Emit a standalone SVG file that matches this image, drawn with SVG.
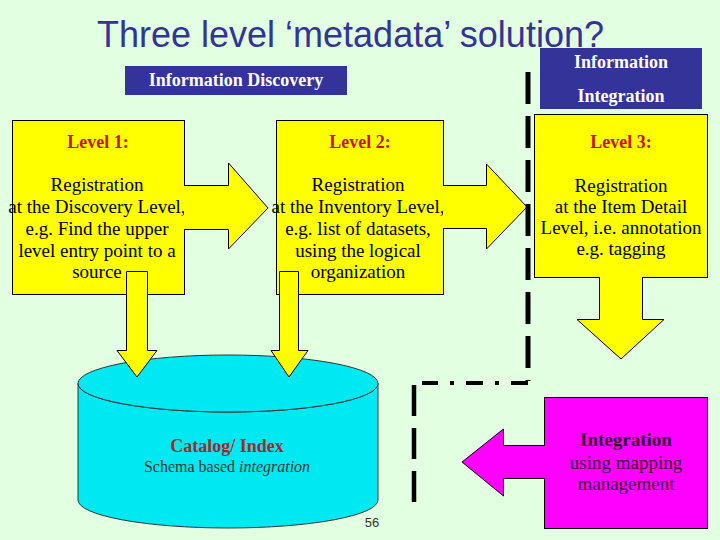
<svg xmlns="http://www.w3.org/2000/svg" width="720" height="540" viewBox="0 0 720 540">
<style>
.bg{fill:#E2FFE2}
.hdr{fill:#333399}
.hdrt{font-family:"Liberation Serif",serif;font-weight:bold;font-size:18px;fill:#ffffff;text-anchor:middle}
.box{fill:#FFFF00;stroke:#000000;stroke-width:1}
.lvl{font-family:"Liberation Serif",serif;font-weight:bold;font-size:18px;fill:#CC1100;text-anchor:middle}
.body{font-family:"Liberation Serif",serif;font-size:19px;fill:#000000;text-anchor:middle}
.dash{fill:none;stroke:#000000}
.mag{fill:#FF00FF;stroke:#000000;stroke-width:1}
.magt{font-family:"Liberation Serif",serif;font-size:19px;fill:#330033;text-anchor:middle}
.cyl{fill:#00E8F2;stroke:#333333;stroke-width:1}
</style>
<rect class="bg" x="0" y="0" width="720" height="540"/>
<text x="97" y="47" font-family="Liberation Sans, Arial, sans-serif" font-size="36" fill="#333399">Three level ‘metadata’ solution?</text>

<g id="info-discovery">
<rect class="hdr" x="125" y="66" width="222" height="29"/>
<text class="hdrt" x="236" y="86">Information Discovery</text>
</g>
<g id="info-integration">
<rect class="hdr" x="540" y="48" width="162" height="61"/>
<text class="hdrt" x="621" y="68">Information</text>
<text class="hdrt" x="621" y="102">Integration</text>
</g>

<g id="catalog">
<path class="cyl" d="M78,383.5 A150,28.5 0 0 0 378,383.5 V500 A150,28 0 0 1 78,500 Z"/>
<ellipse class="cyl" cx="228" cy="383.5" rx="150" ry="28.5"/>
<text x="227" y="452" font-family="Liberation Serif, serif" font-weight="bold" font-size="18" fill="#A02828" text-anchor="middle">Catalog/ Index</text>
<text x="227" y="472" font-family="Liberation Serif, serif" font-size="16" fill="#333333" text-anchor="middle">Schema based <tspan font-style="italic">integration</tspan></text>
</g>

<g id="level1">
<rect class="box" x="12.5" y="120.5" width="172" height="174"/>
<text class="lvl" x="98" y="148">Level 1:</text>
<text class="body" x="97" y="191">Registration</text>
<text class="body" x="97" y="213">at the Discovery Level,</text>
<text class="body" x="97" y="235">e.g. Find the upper</text>
<text class="body" x="97" y="257">level entry point to a</text>
<text class="body" x="97" y="278">source</text>
</g>
<g id="level2">
<rect class="box" x="276.5" y="120.5" width="167" height="174"/>
<text class="lvl" x="360" y="148">Level 2:</text>
<text class="body" x="358" y="191">Registration</text>
<text class="body" x="358" y="213">at the Inventory Level,</text>
<text class="body" x="358" y="235">e.g. list of datasets,</text>
<text class="body" x="358" y="257">using the logical</text>
<text class="body" x="358" y="278">organization</text>
</g>
<g id="level3">
<rect class="box" x="534.5" y="114.5" width="173" height="163"/>
<text class="lvl" x="621" y="148">Level 3:</text>
<text class="body" x="621" y="192">Registration</text>
<text class="body" x="621" y="213">at the Item Detail</text>
<text class="body" x="621" y="234">Level, i.e. annotation</text>
<text class="body" x="621" y="255">e.g. tagging</text>
</g>
<g id="integration">
<rect class="mag" x="544.5" y="397.5" width="163" height="131"/>
<path class="mag" d="M545,445.5 H503.5 V429 L462,462 L503.5,496 V478.5 H545"/>
<text class="magt" x="626" y="446" font-weight="bold">Integration</text>
<text class="magt" x="626" y="469">using mapping</text>
<text class="magt" x="626" y="490">management</text>
</g>

<g id="connectors">
<path class="box" d="M184,185.5 H228.5 V163 L268,208 L228.5,249 V229.5 H184"/>
<path class="box" d="M443,185.5 H486.5 V164 L527,207 L486.5,249 V228.5 H443"/>
<path class="box" d="M599.5,277 V319.5 H577 L621,359 L664,319.5 H642.5 V277"/>
<path class="box" d="M126.5,271.5 V350.5 H117 L137,377 L157,350.5 H147.5 V271.5 Z"/>
<path class="box" d="M279.5,271.5 V350.5 H271 L289,377 L308,350.5 H298.5 V271.5 Z"/>
<line class="dash" x1="528" y1="72" x2="528" y2="381" stroke-width="5" stroke-dasharray="32 12"/>
<line class="dash" x1="528" y1="383" x2="422" y2="383" stroke-width="4" stroke-dasharray="17 12 4 12"/>
<line class="dash" x1="414" y1="385" x2="414" y2="504" stroke-width="4.5" stroke-dasharray="31 12"/>
</g>
<text x="372" y="527" font-family="Liberation Sans, Arial, sans-serif" font-size="13" fill="#333333" text-anchor="middle">56</text>
</svg>
